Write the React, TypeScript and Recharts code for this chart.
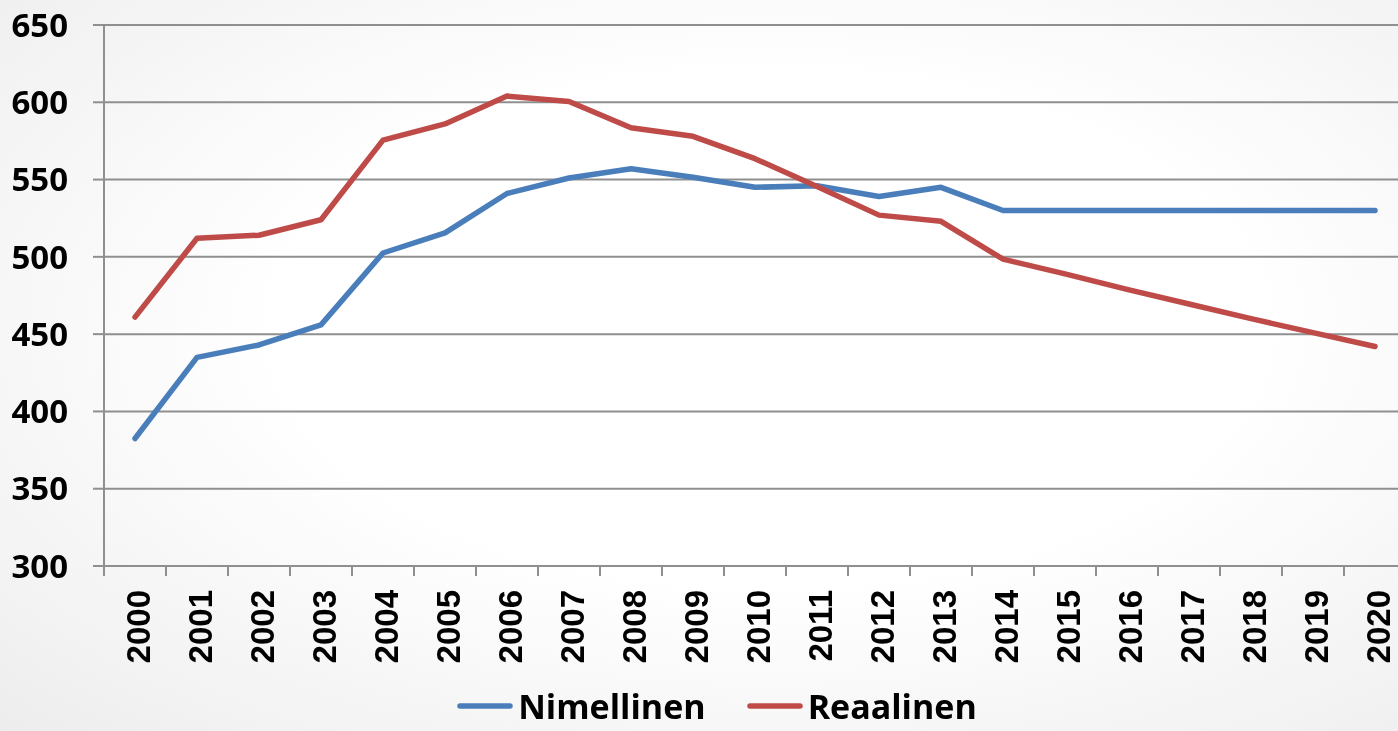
import React from 'react';
import { LineChart, Line, XAxis, YAxis, CartesianGrid, Legend } from 'recharts';

const years = [
  '2000', '2001', '2002', '2003', '2004', '2005', '2006', '2007', '2008', '2009', '2010',
  '2011', '2012', '2013', '2014', '2015', '2016', '2017', '2018', '2019', '2020',
];
const nimellinen = [
  382.5, 435, 443, 456, 502.5, 515.5, 541, 551, 557, 551.5, 545,
  546, 539, 545, 530, 530, 530, 530, 530, 530, 530,
];
const reaalinen = [
  461, 512, 514, 524, 575.5, 586, 604, 600.5, 583.5, 578, 563.5,
  545.5, 527, 523, 498.5, 489, 479, 469.5, 460, 451, 442,
];
const yTicks = [300, 350, 400, 450, 500, 550, 600, 650];

const data = years.map((year, i) => ({
  year,
  nimellinen: nimellinen[i],
  reaalinen: reaalinen[i],
}));

const BLUE = '#4a7ebb';
const RED = '#be4b48';
const GRID = '#8f8f8f';

const CHART_W = 1410;
const CHART_H = 731;
const Y_AXIS_W = 104;
const MARGIN = { top: 25, right: 4, left: 0, bottom: 0 };
const BAND = (CHART_W - MARGIN.right - Y_AXIS_W) / years.length;

const labelFont = '"Open Sans", Lato, sans-serif';

function YearTick(props: any) {
  const { x, y, payload } = props;
  const half = BAND / 2;
  return (
    <g>
      <line x1={x - half} x2={x - half} y1={y - 10} y2={y} stroke={GRID} strokeWidth={2} />
      <text
        transform={`translate(${x + 15},${y + 14}) rotate(-90)`}
        textAnchor="end"
        fontFamily='"Liberation Sans", Arial, sans-serif'
        fontWeight="bold"
        fontSize={33}
        fill="#000"
      >
        {payload.value}
      </text>
    </g>
  );
}

const legendItems = [
  { name: 'Nimellinen', color: BLUE },
  { name: 'Reaalinen', color: RED },
];

function LegendContent() {
  return (
    <div
      style={{
        display: 'flex',
        justifyContent: 'center',
        alignItems: 'center',
        gap: 41,
        paddingLeft: 36,
        height: 50,
      }}
    >
      {legendItems.map((item) => (
        <div key={item.name} style={{ display: 'flex', alignItems: 'center', gap: 5 }}>
          <svg width={56} height={10}>
            <line x1={3} x2={53} y1={5} y2={5} stroke={item.color} strokeWidth={5.5} strokeLinecap="round" />
          </svg>
          <span
            style={{
              fontFamily: labelFont,
              fontWeight: 700,
              fontSize: 34,
              color: '#000',
              lineHeight: '50px',
            }}
          >
            {item.name}
          </span>
        </div>
      ))}
    </div>
  );
}

export default function App() {
  return (
    <div
      style={{
        position: 'fixed',
        left: 0,
        top: 0,
        width: 1398,
        height: 731,
        overflow: 'hidden',
        background: 'radial-gradient(ellipse at 55% 45%, #ffffff 45%, #ededed 100%)',
      }}
    >
      <LineChart width={CHART_W} height={CHART_H} data={data} margin={MARGIN}>
        <CartesianGrid horizontal vertical={false} stroke={GRID} strokeWidth={2} />
        <XAxis
          dataKey="year"
          interval={0}
          height={115}
          padding={{ left: BAND / 2, right: BAND / 2 }}
          axisLine={{ stroke: GRID, strokeWidth: 2 }}
          tickLine={false}
          tickSize={10}
          tickMargin={0}
          tick={<YearTick />}
        />
        <YAxis
          domain={[300, 650]}
          ticks={yTicks}
          interval={0}
          width={Y_AXIS_W}
          axisLine={{ stroke: GRID, strokeWidth: 2 }}
          tickLine={{ stroke: GRID, strokeWidth: 2 }}
          tickSize={11}
          tickMargin={25}
          tick={{ fontFamily: labelFont, fontWeight: 700, fontSize: 33, fill: '#000' }}
        />
        <Legend
          verticalAlign="bottom"
          height={50}
          content={() => <LegendContent />}
          wrapperStyle={{ left: 0, width: 1398, bottom: 0 }}
        />
        <Line
          type="linear"
          dataKey="nimellinen"
          name="Nimellinen"
          stroke={BLUE}
          strokeWidth={5.5}
          strokeLinecap="round"
          strokeLinejoin="round"
          dot={false}
          activeDot={false}
          isAnimationActive={false}
        />
        <Line
          type="linear"
          dataKey="reaalinen"
          name="Reaalinen"
          stroke={RED}
          strokeWidth={5.5}
          strokeLinecap="round"
          strokeLinejoin="round"
          dot={false}
          activeDot={false}
          isAnimationActive={false}
        />
      </LineChart>
    </div>
  );
}
